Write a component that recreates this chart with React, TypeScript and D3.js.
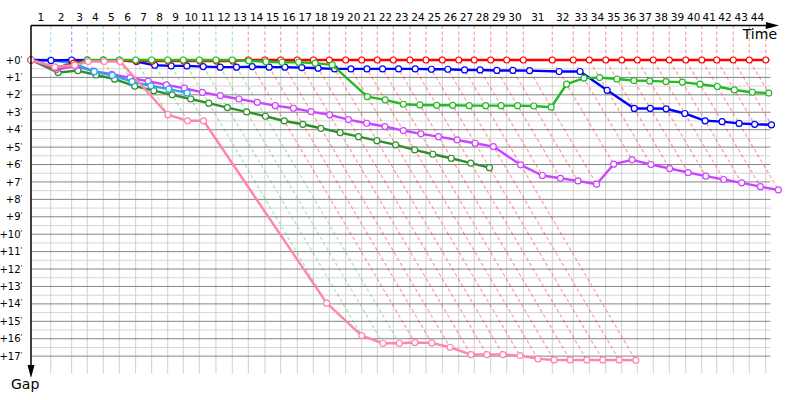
import React from "react";
import * as d3 from "d3";

// Lap numbers shown on the time axis
const lapLabels: string[] = Array.from({ length: 44 }, (_, i) => String(i + 1));

// Leader's cumulative time (minutes) at the end of each lap
const leaderTimes: number[] = [
  1.92, 3.96, 5.48, 7.04, 8.6, 10.19, 11.75, 13.31, 14.83, 16.39,
  18.01, 19.6, 21.16, 22.78, 24.31, 25.93, 27.49, 29.05, 30.64, 32.2,
  33.72, 35.28, 36.9, 38.46, 40.05, 41.65, 43.16, 44.76, 46.32, 47.94,
  50.76, 52.8, 54.36, 55.96, 57.52, 59.04, 60.59, 62.15, 63.75, 65.31,
  66.77, 68.38, 69.94, 71.54,
];

// Gap axis ticks (minutes)
const gapTicks: number[] = [0, 1, 2, 3, 4, 5, 6, 7, 8, 9, 10, 11, 12, 13, 14, 15, 16, 17];

// Gap to the leader (minutes) at the end of each lap, per car
const redGaps: number[] = [
  0.45, 0.18, 0.03, 0.03, 0.05, 0.06, 0.06, 0.06, 0.06, 0.06, 0.06, 0.06,
  0, 0, 0, 0, 0, 0, 0, 0, 0, 0, 0, 0, 0, 0, 0, 0, 0, 0, 0, 0,
  0, 0, 0, 0, 0, 0, 0, 0, 0, 0, 0, 0,
];
const greenGaps: number[] = [
  0.42, 0.28, 0, 0, 0, 0, 0, 0, 0, 0, 0, 0,
  0.05, 0.1, 0.13, 0.13, 0.18, 0.28, 2.1, 2.29, 2.54, 2.58, 2.6, 2.6, 2.62,
  2.62, 2.62, 2.62, 2.64, 2.71, 1.39, 1.04, 1.01, 1.09, 1.18, 1.2, 1.24,
  1.27, 1.39, 1.52, 1.72, 1.85, 1.9,
];
const blueGaps: number[] = [
  0.03, 0, 0.01, 0.01, 0.02, 0.09, 0.3, 0.34, 0.34, 0.38, 0.41, 0.41, 0.38,
  0.41, 0.41, 0.44, 0.47, 0.51, 0.51, 0.51, 0.51, 0.51, 0.51, 0.53, 0.53,
  0.57, 0.57, 0.6, 0.6, 0.61, 0.66, 0.66, 1.74, 2.78, 2.78, 2.8, 3.07, 3.49,
  3.54, 3.64, 3.69, 3.72,
];
const purpleGaps: number[] = [
  0.55, 0.35, 0.64, 0.82, 1.03, 1.22, 1.43, 1.62, 1.86, 2.05, 2.24, 2.43,
  2.62, 2.77, 2.96, 3.15, 3.42, 3.63, 3.82, 4.05, 4.24, 4.4, 4.59, 4.78,
  4.97, 6.02, 6.63, 6.79, 6.94, 7.13, 5.98, 5.73, 6.0, 6.23, 6.46, 6.67,
  6.86, 7.05, 7.27, 7.46,
];
const darkGreenGaps: number[] = [
  0.72, 0.61, 0.86, 1.1, 1.5, 1.76, 2.0, 2.24, 2.48, 2.73, 2.98, 3.23,
  3.5, 3.69, 3.92, 4.17, 4.4, 4.63, 4.87, 5.16, 5.41, 5.64, 5.92, 6.18,
];
const lightBlueGaps: number[] = [0, 0.2, 0.67, 0.88, 1.24, 1.48, 1.67, 1.89];
const pinkGaps: number[] = [
  0.4, 0.3, 0.09, 0.09, 0.09, 3.14, 3.49, 3.49, 13.96, 15.82, 16.26, 16.26,
  16.22, 16.24, 16.49, 16.91, 16.91, 16.91, 16.97, 17.16, 17.22, 17.22,
  17.22, 17.22, 17.22, 17.24,
];

// drawing order (bottom to top)
const seriesList = [
  { key: "darkgreen", color: "#2f8f2f", gaps: darkGreenGaps },
  { key: "purple", color: "#cc44ff", gaps: purpleGaps },
  { key: "lightblue", color: "#22aaee", gaps: lightBlueGaps },
  { key: "blue", color: "#0000ff", gaps: blueGaps },
  { key: "red", color: "#ff0000", gaps: redGaps },
  { key: "green", color: "#22bb22", gaps: greenGaps },
  { key: "pink", color: "#ff85aa", gaps: pinkGaps },
];

const FONT = "'DejaVu Sans', Verdana, sans-serif";

export default function App() {
  const width = 800;
  const height = 400;
  const axisY = 25.5;
  const x = d3.scaleLinear().domain([0, 72]).range([31, 31 + 72 * 10.27]);
  const y = d3.scaleLinear().domain([0, 18]).range([60, 60 + 18 * 17.42]);
  const xLeft = x(0);
  const xRight = x(72);

  const line = d3
    .line<[number, number]>()
    .x((d) => x(d[0]))
    .y((d) => y(d[1]));

  const seriesPoints = seriesList.map((s) => {
    const pts: [number, number][] = [[0, 0]];
    s.gaps.forEach((g, i) => pts.push([leaderTimes[i] + g, g]));
    return { ...s, pts };
  });

  // per lap: leader colour and max gap of cars that completed the lap
  const lapInfo = leaderTimes.map((t, i) => {
    let minG = Infinity;
    let leaderColor = "#ff0000";
    let maxG = 0;
    seriesList.forEach((s) => {
      if (s.gaps.length > i) {
        const g = s.gaps[i];
        if (g < minG) {
          minG = g;
          leaderColor = s.color;
        }
        if (g > maxG) maxG = g;
      }
    });
    return { t, leaderColor, maxG };
  });

  const halfTicks = gapTicks.slice(0, -1).map((g) => g + 0.5);

  return (
    <svg
      width={width}
      height={height}
      style={{ position: "absolute", left: 0, top: 0, background: "#fff" }}
    >
      {/* light half grid */}
      {halfTicks.map((g) => (
        <line key={"h" + g} x1={xLeft} x2={xRight} y1={y(g)} y2={y(g)} stroke="#d6d6d6" strokeWidth={1} />
      ))}
      {/* vertical lap grid */}
      {leaderTimes.map((t, i) => (
        <line key={"v" + i} x1={x(t)} x2={x(t)} y1={y(0)} y2={y(18)} stroke="#d0d0d0" strokeWidth={1} />
      ))}
      {/* main gap grid */}
      {gapTicks.map((g) => (
        <line key={"g" + g} x1={xLeft} x2={xRight} y1={y(g)} y2={y(g)} stroke="#858585" strokeWidth={1} />
      ))}

      {/* lap lines: vertical from axis, then diagonal (constant lap) */}
      {lapInfo.map((l, i) => (
        <path
          key={"d" + i}
          d={`M${x(l.t)},${axisY}L${x(l.t)},${y(0)}L${x(l.t + l.maxG)},${y(l.maxG)}`}
          fill="none"
          stroke={l.leaderColor}
          strokeOpacity={0.38}
          strokeWidth={1.2}
          strokeDasharray="3.5,2.5"
        />
      ))}

      {/* series */}
      {seriesPoints.map((s) => (
        <g key={s.key}>
          <path d={line(s.pts) || ""} fill="none" stroke={s.color} strokeWidth={2.4} strokeLinejoin="round" />
          {s.pts.map((p, j) => (
            <circle key={j} cx={x(p[0])} cy={y(p[1])} r={3} fill="#fff" stroke={s.color} strokeWidth={1.2} />
          ))}
        </g>
      ))}

      {/* axes */}
      <line x1={xLeft} x2={772} y1={axisY} y2={axisY} stroke="#000" strokeWidth={1.5} />
      <polygon points={`766,${axisY - 3.5} 779,${axisY} 766,${axisY + 3.5}`} fill="#000" />
      <line x1={xLeft} x2={xLeft} y1={axisY} y2={368} stroke="#000" strokeWidth={1.5} />
      <polygon points={`${xLeft - 3.5},365 ${xLeft},378 ${xLeft + 3.5},365`} fill="#000" />

      {/* lap labels */}
      {lapLabels.map((lab, i) => {
        const a = i === 0 ? 0 : leaderTimes[i - 1];
        const b = leaderTimes[i];
        return (
          <text
            key={"l" + i}
            x={(x(a) + x(b)) / 2}
            y={20.5}
            textAnchor="middle"
            fontFamily={FONT}
            fontSize={10.5}
            fill="#000"
          >
            {lab}
          </text>
        );
      })}

      {/* gap labels */}
      {gapTicks.map((g) => (
        <text key={"t" + g} x={22.5} y={y(g) + 3.6} textAnchor="end" fontFamily={FONT} fontSize={10} fill="#000">
          {"+" + g}
          <tspan fontSize={7} dy={-3}>'</tspan>
        </text>
      ))}

      <text x={777} y={38.7} textAnchor="end" fontFamily={FONT} fontSize={14} fill="#000">
        Time
      </text>
      <text x={11} y={388.5} fontFamily={FONT} fontSize={14} fill="#000">
        Gap
      </text>
    </svg>
  );
}
